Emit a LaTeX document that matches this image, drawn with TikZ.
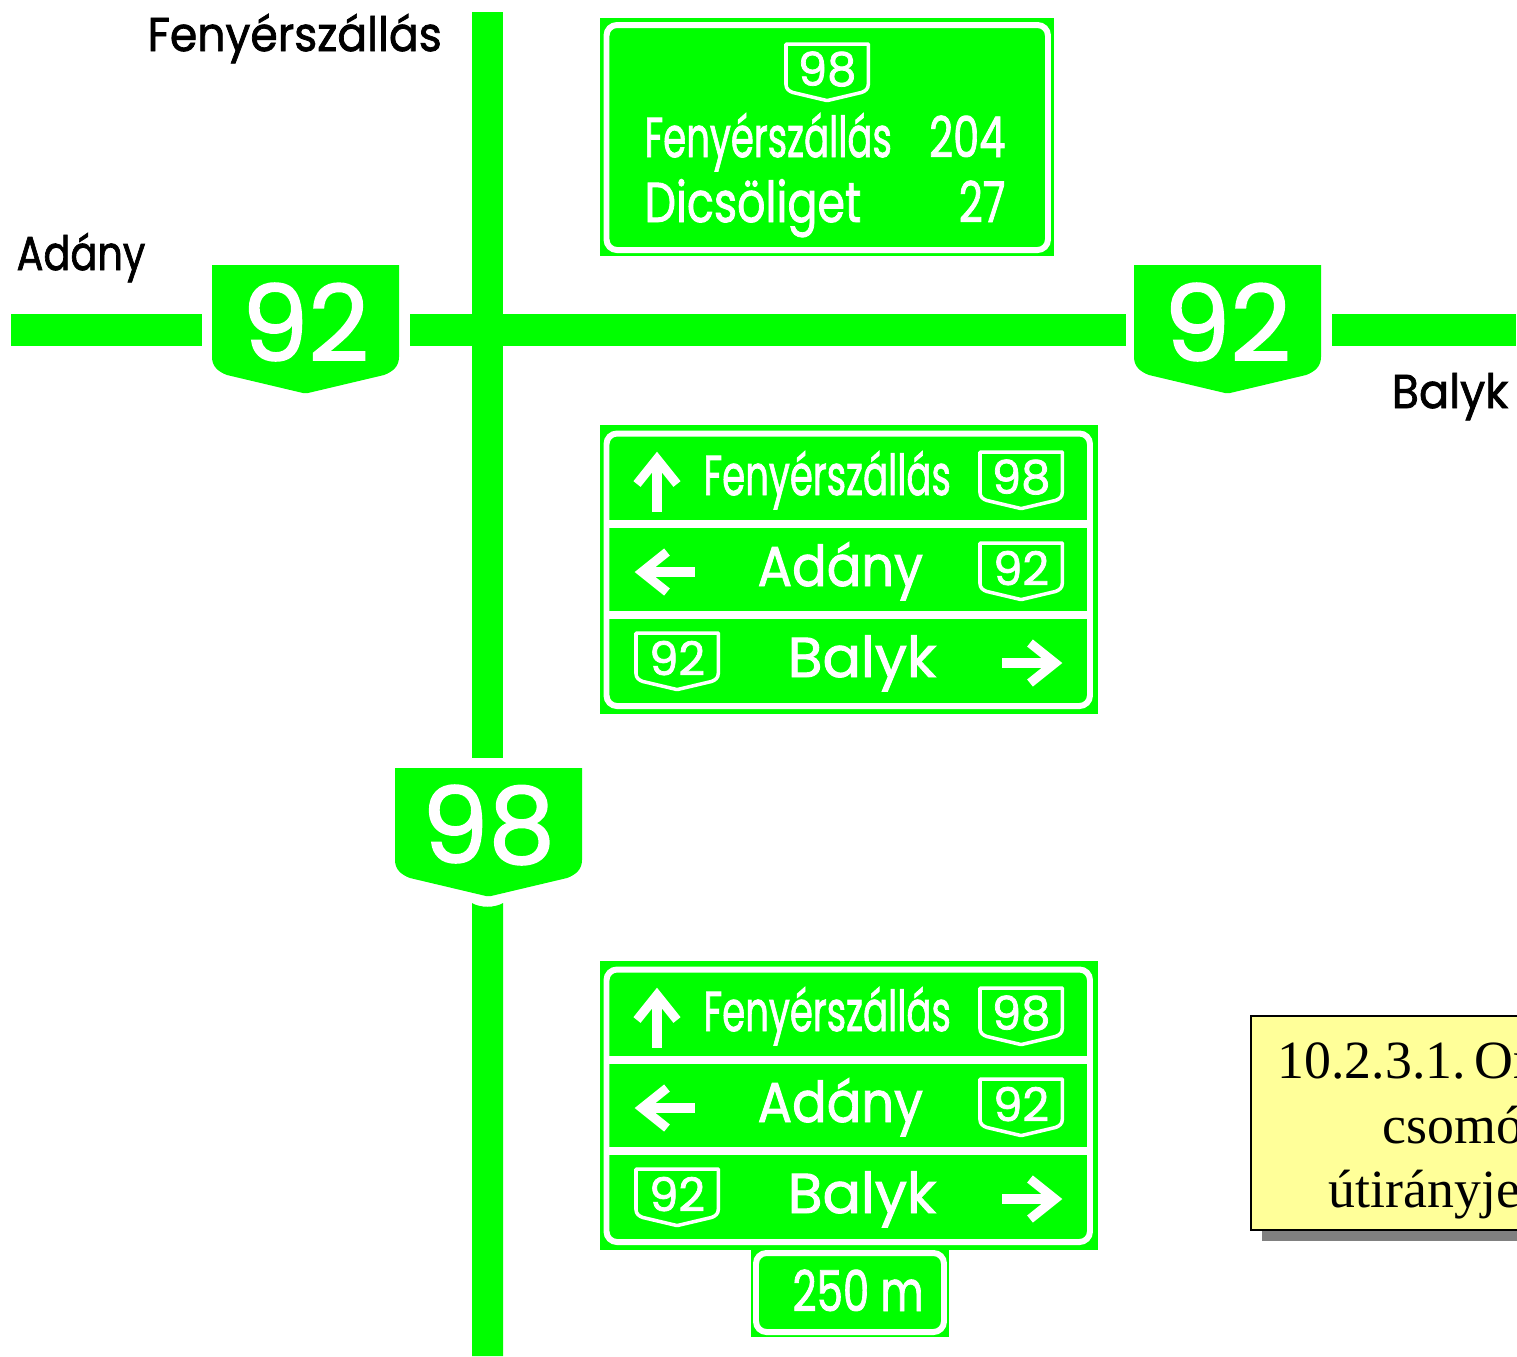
\documentclass[tikz,border=0pt]{standalone}
\usepackage{fontspec}
\setmainfont{Poppins}[FakeBold=1.6]
\newfontfamily\capfont{Liberation Serif}
\definecolor{roadgreen}{RGB}{0,255,0}
\definecolor{notefill}{RGB}{255,255,153}
\tikzset{
	road/.style={fill=roadgreen,draw=none},
	signbox/.style={fill=roadgreen,draw=none},
	signline/.style={draw=white,line width=1.7pt,rounded corners=3pt},
	signtxt/.style={white,inner sep=0pt,font=\fontsize{16}{16}\selectfont},
	narrowtxt/.style={signtxt,xscale=0.66},
	maptxt/.style={black,inner sep=0pt,anchor=base west,font=\fontsize{13.5}{13.5}\selectfont},
	shieldnum/.style={white,inner sep=0pt,font=\fontsize{30}{30}\selectfont},
	captxt/.style={black,inner sep=0pt,anchor=base west,font=\capfont\fontsize{15.3}{15.3}\selectfont},
}
\newcommand{\mkshield}[6]{% #1: name, #2: x, #3: y, #4: scale, #5: path style, #6: number
	\begin{scope}[shift={(#2,#3)},scale=#4,transform shape]
		\path[#5] (0,0) -- (187,0) -- (187,92) .. controls (187,102) and (180,107) .. (172,110)
			-- (96,128) -- (91,128) -- (15,110) .. controls (7,107) and (0,102) .. (0,92) -- cycle;
		\node[shieldnum] (#1) at (93.5,57) {#6};
	\end{scope}
}
\newcommand{\bigshield}[4]{\mkshield{#1}{#2}{#3}{1}{fill=roadgreen}{#4}}
\newcommand{\smallshield}[4]{\mkshield{#1}{#2}{#3}{0.44}{draw=white,line width=1pt,line join=round}{#4}}
\newcommand{\mkarrow}[3]{% #1: x of tip, #2: y of tip, #3: angle
	\begin{scope}[shift={(#1,#2)},rotate=#3]
		\draw[white,line width=2.6pt] (-6,0) -- (-60,0);
		\draw[white,line width=2.6pt,miter limit=10] (-32,-20) -- (-7,0) -- (-32,20);
	\end{scope}
}
\newcommand{\mkdirsign}[2]{% #1: name, #2: y offset
	\begin{scope}[shift={(0,#2)}]
		\fill[signbox] (600,425) rectangle (1098,714);
		\draw[signline] (606.5,433.5) rectangle (1090,706);
		% Dividing bars
		\foreach \y in {524,615} \draw[white,line width=2.3pt] (608,\y) -- (1088,\y);
		% Arrows
		\mkarrow{657}{452}{90}
		\mkarrow{635}{572}{180}
		\mkarrow{1062}{663}{0}
		% Shields
		\smallshield{#1a}{980}{452}{98}
		\smallshield{#1b}{980}{543}{92}
		\smallshield{#1c}{636}{633}{92}
		% Place names
		\node[narrowtxt,anchor=base west] (#1f) at (703,495) {Fenyérszállás};
		\node[signtxt,anchor=base west,xscale=0.91] (#1d) at (757,586) {Adány};
		\node[signtxt,anchor=base west,xscale=1.01] (#1k) at (787,677) {Balyk};
	\end{scope}
}

\begin{document}
\begin{tikzpicture}[x=0.01cm,y=-0.01cm]
	\useasboundingbox (0,0) rectangle (1517,1356);
	
	% Roads
	\fill[road] (472,12) rectangle (503,758);
	\fill[road] (472,903) .. controls (480,908) and (495,908) .. (503,903) -- (503,1356) -- (472,1356) -- cycle;
	\fill[road] (11,314) rectangle (202,346);
	\fill[road] (410,314) rectangle (1126,346);
	\fill[road] (1332,314) rectangle (1516,346);
	
	% Road numbers
	\bigshield{wshield}{212}{265}{92}
	\bigshield{eshield}{1134}{265}{92}
	\bigshield{sshield}{395}{768}{98}
	
	% Map labels
	\node[maptxt,xscale=0.93] (fenyer) at (147,51) {Fenyérszállás};
	\node[maptxt,xscale=0.84] (adany) at (16,270) {Adány};
	\node[maptxt,xscale=0.94] (balyk) at (1391,408) {Balyk};
	
	% Distance sign
	\fill[signbox] (600,18) rectangle (1054,256);
	\draw[signline] (606.5,25) rectangle (1048,250);
	\smallshield{topshield}{786}{44}{98}
	\node[narrowtxt,anchor=base west] (distf) at (644,157) {Fenyérszállás};
	\node[signtxt,anchor=base east,xscale=0.74] (distfn) at (1006,157) {204};
	\node[signtxt,anchor=base west,xscale=0.79] (distd) at (644,222) {Dicsöliget};
	\node[signtxt,anchor=base east,xscale=0.74] (distdn) at (1006,222) {27};
	
	% Direction signs
	\mkdirsign{up}{0}
	\mkdirsign{low}{536}
	
	% Plate below
	\fill[signbox] (751,1248) rectangle (949,1337);
	\draw[signline] (756,1253) rectangle (944,1332);
	\node[signtxt,anchor=base west,xscale=0.745] (plate) at (792,1311) {250 m};
	
	% Caption box
	\fill[gray] (1262,1027) rectangle (1530,1241);
	\draw[black,fill=notefill,line width=0.4pt] (1251,1016) rectangle (1530,1230);
	\node[captxt] (capa) at (1277,1078) {10.2.3.1.\hspace{2.5pt}Or};
	\node[captxt] (capb) at (1382,1143) {csomó};
	\node[captxt] (capc) at (1328,1207) {útirányje};
\end{tikzpicture}
\end{document}
